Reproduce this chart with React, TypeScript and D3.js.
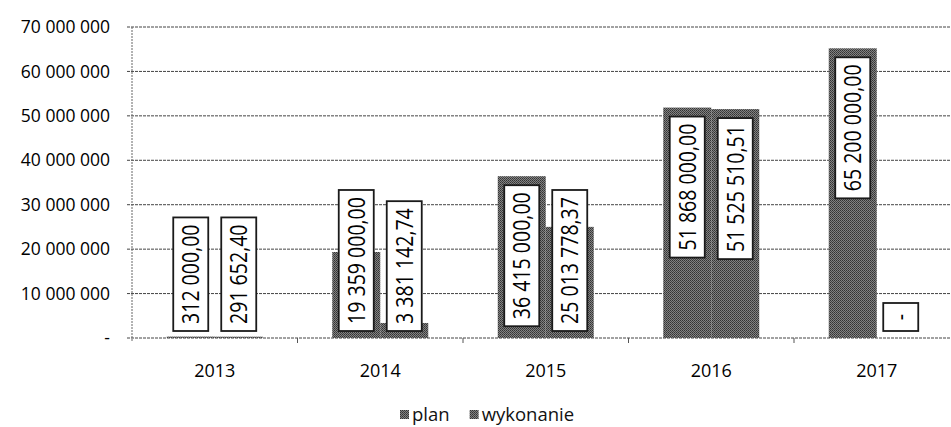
import React, { useEffect, useRef } from 'react'
import * as d3 from 'd3'

const years = ['2013', '2014', '2015', '2016', '2017']
const plan = [312000, 19359000, 36415000, 51868000, 65200000]
const wykonanie = [291652.4, 3381142.74, 25013778.37, 51525510.51, 0]
const seriesNames = ['plan', 'wykonanie']

const pl = d3.formatLocale({ decimal: ',', thousands: '\u00a0', grouping: [3], currency: ['', ''] })
const fmtAxis = pl.format(',.0f')
const fmtLabel = pl.format(',.2f')

const App = () => {
  const ref = useRef<SVGSVGElement>(null)

  useEffect(() => {
    const width = 951
    const height = 427
    const svg = d3.select(ref.current)
    svg.selectAll('*').remove()

    const defs = svg.append('defs')
    const pat = defs.append('pattern')
      .attr('id', 'dither')
      .attr('width', 2).attr('height', 2)
      .attr('patternUnits', 'userSpaceOnUse')
    pat.append('rect').attr('width', 2).attr('height', 2).attr('fill', '#828282')
    pat.append('rect').attr('width', 1).attr('height', 1).attr('fill', '#333')
    pat.append('rect').attr('x', 1).attr('y', 1).attr('width', 1).attr('height', 1).attr('fill', '#444')

    const plotLeft = 132
    const step = 165.5
    const x0 = d3.scaleBand()
      .domain(years)
      .range([plotLeft, plotLeft + step * years.length])
      .paddingInner(0.42)
      .paddingOuter(0.21)
    const x1 = d3.scaleBand().domain(seriesNames).range([0, x0.bandwidth()])

    const y = d3.scaleLinear().domain([0, 70000000]).range([338, 27])

    // grid
    const grid = svg.append('g')
    y.ticks(7).forEach(t => {
      grid.append('line')
        .attr('x1', plotLeft - 5).attr('x2', width)
        .attr('y1', y(t)).attr('y2', y(t))
        .attr('stroke', '#444')
        .attr('stroke-width', 1)
        .attr('stroke-dasharray', '3,1')
    })
    grid.append('line')
      .attr('x1', plotLeft).attr('x2', plotLeft)
      .attr('y1', y(70000000)).attr('y2', y(0) + 3)
      .attr('stroke', '#666')
      .attr('stroke-dasharray', '2,1')
    years.forEach((yr, i) => {
      if (i === 0) return
      const xb = plotLeft + step * i
      grid.append('line')
        .attr('x1', xb).attr('x2', xb)
        .attr('y1', y(0)).attr('y2', y(0) + 5)
        .attr('stroke', '#555')
    })

    // y labels
    svg.append('g').selectAll('text')
      .data(y.ticks(7))
      .join('text')
      .attr('x', 110)
      .attr('y', d => y(d))
      .attr('dy', '0.35em')
      .attr('text-anchor', 'end')
      .attr('font-family', 'Open Sans, sans-serif')
      .attr('font-size', 17.5)
      .attr('fill', '#000')
      .text(d => (d === 0 ? '-' : fmtAxis(d)))

    // x labels
    svg.append('g').selectAll('text')
      .data(years)
      .join('text')
      .attr('x', d => x0(d)! + x0.bandwidth() / 2)
      .attr('y', 377)
      .attr('text-anchor', 'middle')
      .attr('font-family', 'Open Sans, sans-serif')
      .attr('font-size', 18)
      .attr('fill', '#000')
      .text(d => d)

    // bars
    const rows = years.map((yr, i) => ({ yr, values: [plan[i], wykonanie[i]] }))
    const bars = svg.append('g')
    rows.forEach(r => {
      r.values.forEach((v, j) => {
        const bx = x0(r.yr)! + x1(seriesNames[j])!
        bars.append('rect')
          .attr('x', bx)
          .attr('y', y(v))
          .attr('width', x1.bandwidth())
          .attr('height', y(0) - y(v))
          .attr('fill', 'url(#dither)')
      })
    })

    // data labels (condensed rotated text)
    const squeeze = 0.85
    const labels = svg.append('g')
    rows.forEach(r => {
      r.values.forEach((v, j) => {
        const cx = x0(r.yr)! + x1(seriesNames[j])! + x1.bandwidth() / 2
        const g = labels.append('g')
        const box = g.append('rect')
        const txt = g.append('text')
          .attr('text-anchor', 'middle')
          .attr('dy', '0.36em')
          .attr('font-family', 'Open Sans, sans-serif')
          .attr('font-size', 23)
          .attr('fill', '#000')
          .text(v === 0 ? '-' : fmtLabel(v))
        const len = (txt.node() as SVGTextElement).getComputedTextLength() * squeeze
        const h = Math.max(len + 14, 28)
        let top = y(v) + 9
        if (top + h > y(0) - 7) top = y(0) - 7 - h
        txt.attr('transform', `translate(${cx},${top + h / 2}) rotate(-90) scale(${squeeze},1)`)
        box.attr('x', cx - 17.5).attr('y', top)
          .attr('width', 35).attr('height', h)
          .attr('fill', 'white')
          .attr('stroke', '#1a1a1a')
          .attr('stroke-width', 1.8)
      })
    })

    // legend
    const legend = svg.append('g')
    let lx = 400
    seriesNames.forEach(name => {
      legend.append('rect')
        .attr('x', lx).attr('y', 410)
        .attr('width', 9).attr('height', 9)
        .attr('fill', 'url(#dither)')
      const t = legend.append('text')
        .attr('x', lx + 12).attr('y', 421)
        .attr('font-family', 'Open Sans, sans-serif')
        .attr('font-size', 18.5)
        .attr('fill', '#111')
        .text(name)
      lx += 12 + (t.node() as SVGTextElement).getComputedTextLength() + 20
    })
    svg.attr('width', width).attr('height', height)
  }, [])

  return (
    <svg ref={ref} width={951} height={427}
      style={{ position: 'absolute', left: 0, top: 0, background: 'white' }} />
  )
}

export default App
